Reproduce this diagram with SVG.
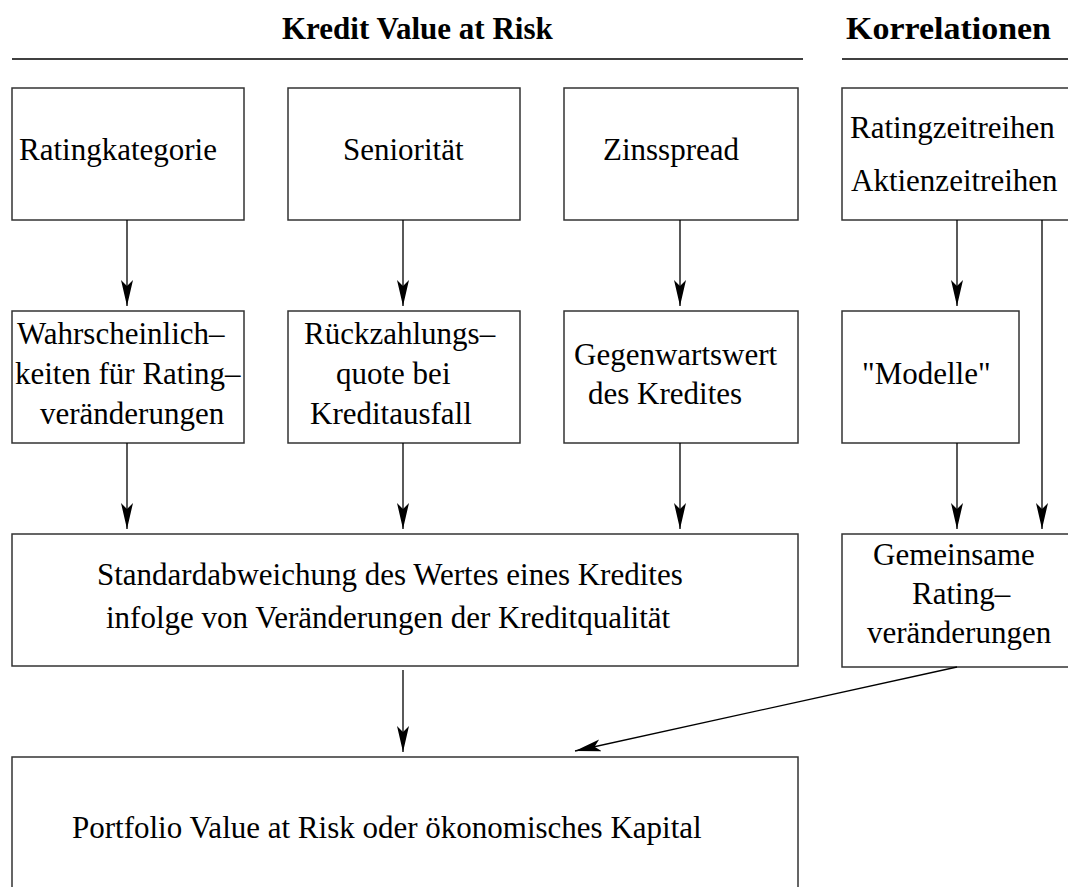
<svg xmlns="http://www.w3.org/2000/svg" width="1068" height="887" viewBox="0 0 1068 887">
<style>
.box{fill:#fff;stroke:#333;stroke-width:1.5}
.t{font-family:"Liberation Serif","Times New Roman",serif;font-size:31px;fill:#000}
.h{font-family:"Liberation Serif","Times New Roman",serif;font-size:31px;font-weight:bold;fill:#000}
.c{stroke:#000;stroke-width:1.3;fill:none}
.rule{stroke:#000;stroke-width:1.6}
</style>
<defs>
<marker id="ah" markerUnits="userSpaceOnUse" markerWidth="26" markerHeight="14" refX="26" refY="6" orient="auto">
<path d="M0,0 L26,6 L0,12 L6,6 z" fill="#000"/>
</marker>
</defs>
<rect width="1068" height="887" fill="#fff"/>
<g id="headers">
<text class="h" x="282" y="39">Kredit Value at Risk</text>
<text class="h" x="846" y="39" textLength="205" lengthAdjust="spacingAndGlyphs">Korrelationen</text>
<line class="rule" x1="12" y1="59" x2="803" y2="59"/>
<line class="rule" x1="842" y1="59" x2="1068" y2="59"/>
</g>
<g id="n-rating">
<rect class="box" x="12" y="88" width="232" height="132"/>
<text class="t" x="19" y="160">Ratingkategorie</text>
</g>
<g id="n-senioritaet">
<rect class="box" x="288" y="88" width="232" height="132"/>
<text class="t" x="343" y="160">Seniorität</text>
</g>
<g id="n-zinsspread">
<rect class="box" x="564" y="88" width="234" height="132"/>
<text class="t" x="603" y="160">Zinsspread</text>
</g>
<g id="n-zeitreihen">
<rect class="box" x="842" y="88" width="230" height="132"/>
<text class="t" x="850" y="138">Ratingzeitreihen</text>
<text class="t" x="851" y="191">Aktienzeitreihen</text>
</g>
<g id="n-wahrscheinlichkeiten">
<rect class="box" x="12" y="311" width="232" height="132"/>
<text class="t" x="17" y="344">Wahrscheinlich–</text>
<text class="t" x="15" y="384">keiten für Rating–</text>
<text class="t" x="40" y="424">veränderungen</text>
</g>
<g id="n-rueckzahlung">
<rect class="box" x="288" y="311" width="232" height="132"/>
<text class="t" x="304" y="344">Rückzahlungs–</text>
<text class="t" x="336" y="384">quote bei</text>
<text class="t" x="310" y="424">Kreditausfall</text>
</g>
<g id="n-gegenwartswert">
<rect class="box" x="564" y="311" width="234" height="132"/>
<text class="t" x="574" y="365">Gegenwartswert</text>
<text class="t" x="588" y="404">des Kredites</text>
</g>
<g id="n-modelle">
<rect class="box" x="842" y="311" width="177" height="132"/>
<text class="t" x="862" y="384">"Modelle"</text>
</g>
<g id="n-standardabweichung">
<rect class="box" x="12" y="534" width="786" height="132"/>
<text class="t" x="97" y="585">Standardabweichung des Wertes eines Kredites</text>
<text class="t" x="106" y="628">infolge von Veränderungen der Kreditqualität</text>
</g>
<g id="n-gemeinsame">
<rect class="box" x="842" y="534" width="230" height="133"/>
<text class="t" x="873" y="565">Gemeinsame</text>
<text class="t" x="912" y="604">Rating–</text>
<text class="t" x="867" y="643">veränderungen</text>
</g>
<g id="n-portfolio">
<rect class="box" x="12" y="757" width="786" height="140"/>
<text class="t" x="72" y="838">Portfolio Value at Risk oder ökonomisches Kapital</text>
</g>
<g id="connectors">
<line class="c" x1="127" y1="220" x2="127" y2="306" marker-end="url(#ah)"/>
<line class="c" x1="403" y1="220" x2="403" y2="306" marker-end="url(#ah)"/>
<line class="c" x1="680" y1="220" x2="680" y2="306" marker-end="url(#ah)"/>
<line class="c" x1="957" y1="220" x2="957" y2="306" marker-end="url(#ah)"/>
<line class="c" x1="127" y1="443" x2="127" y2="529" marker-end="url(#ah)"/>
<line class="c" x1="403" y1="443" x2="403" y2="529" marker-end="url(#ah)"/>
<line class="c" x1="680" y1="443" x2="680" y2="529" marker-end="url(#ah)"/>
<line class="c" x1="957" y1="443" x2="957" y2="529" marker-end="url(#ah)"/>
<line class="c" x1="1042" y1="220" x2="1042" y2="529" marker-end="url(#ah)"/>
<line class="c" x1="403" y1="670" x2="403" y2="752" marker-end="url(#ah)"/>
<line class="c" x1="957" y1="667" x2="575" y2="751" marker-end="url(#ah)"/>
</g>
</svg>
